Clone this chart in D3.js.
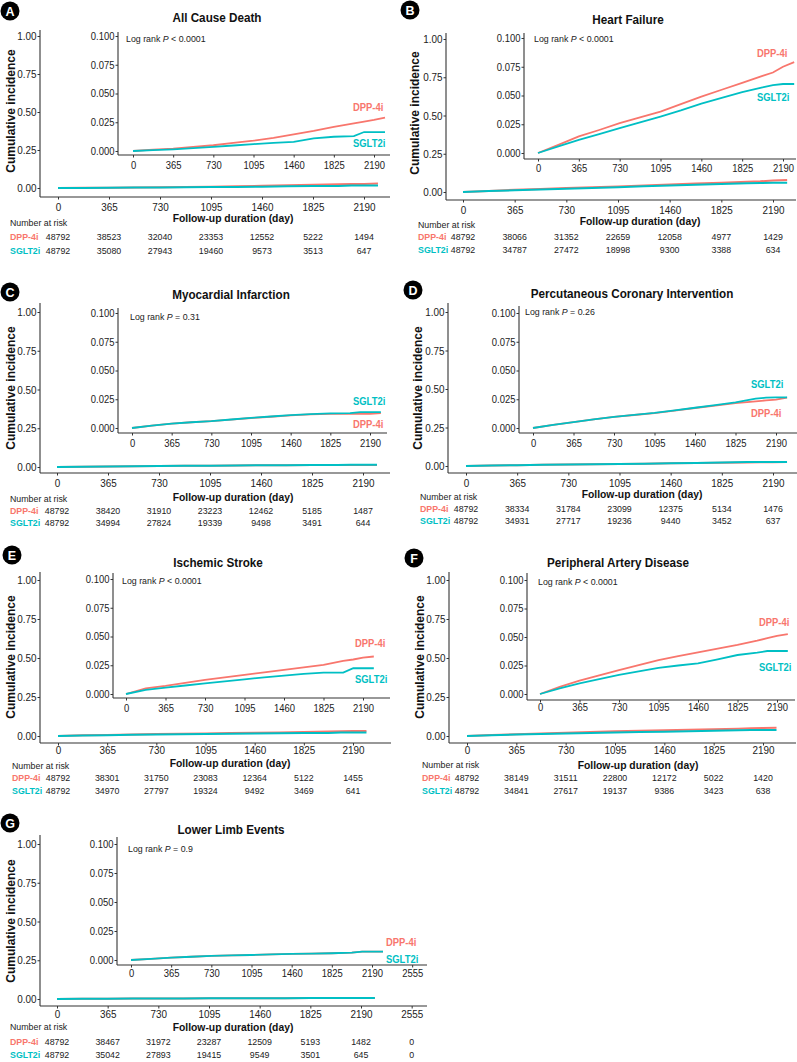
<!DOCTYPE html>
<html><head><meta charset="utf-8">
<script src="https://cdn.jsdelivr.net/npm/d3@7"></script>
<style>body{margin:0;background:#fff} svg{display:block}</style>
</head><body>
<script>
// ---------------- DATA ----------------
const times = [0, 182, 365, 547, 730, 912, 1095, 1277, 1460, 1642, 1825, 2007, 2100, 2190, 2290];
const groups = ["DPP-4i", "SGLT2i"];
const panelLetters = ["A", "B", "C", "D", "E", "F", "G"];
const panelTitles = ["All Cause Death", "Heart Failure", "Myocardial Infarction",
  "Percutaneous Coronary Intervention", "Ischemic Stroke", "Peripheral Artery Disease", "Lower Limb Events"];
const logRankP = ["< 0.0001", "< 0.0001", "= 0.31", "= 0.26", "< 0.0001", "< 0.0001", "= 0.9"];

const dppA  = [0, .0012, .002, .0035, .005, .007, .009, .0115, .0145, .0175, .021, .024, .0255, .027, .029];
const sgltA = [0, .0008, .0015, .0025, .0035, .0048, .006, .007, .008, .011, .0124, .013, .0165, .0165, .0165];
const dppB  = [0, .007, .0144, .020, .026, .031, .036, .0425, .049, .055, .061, .067, .070, .075, .079];
const sgltB = [0, .0058, .0115, .0165, .0216, .0267, .0317, .037, .043, .048, .053, .057, .059, .060, .060];
const dppC  = [0, .002, .0038, .005, .006, .0073, .0087, .0098, .011, .0118, .0122, .0122, .0122, .0122, .013];
const sgltC = [0, .002, .0038, .005, .006, .0074, .0088, .010, .0112, .012, .0128, .013, .0138, .0138, .0138];
const dppD  = [0, .0027, .0052, .0075, .0096, .0113, .013, .0152, .0174, .0195, .0217, .0232, .024, .0246, .0264];
const sgltD = [0, .0027, .0052, .0075, .0097, .0114, .0132, .0154, .0176, .0198, .0222, .0255, .0264, .0267, .0267];
const dppE  = [0, .0049, .007, .0096, .0122, .0144, .0166, .0188, .0209, .0231, .0253, .0288, .030, .0317, .0326];
const sgltE = [0, .0035, .0055, .0074, .0093, .011, .0128, .0144, .016, .0175, .0186, .0186, .0224, .0224, .0224];
const dppF  = [0, .0062, .0117, .0164, .021, .0254, .0298, .0332, .0365, .0398, .043, .0468, .049, .0509, .0526];
const sgltF = [0, .005, .0094, .013, .0167, .0199, .023, .025, .0269, .0304, .0342, .0363, .0377, .0377, .0377];
const dppG  = [0, .001, .002, .0028, .0035, .004, .0043, .0048, .0052, .0055, .0058, .0063, .0072, .0072, .0072];
const sgltG = [0, .001, .002, .0028, .0035, .004, .0043, .0048, .0052, .0055, .0058, .0063, .0072, .0072, .0072];

const xTicks = [0, 365, 730, 1095, 1460, 1825, 2190];
const xTicksG = [0, 365, 730, 1095, 1460, 1825, 2190, 2555];
const yTicksMain = [0, 0.25, 0.5, 0.75, 1.0];
const yTicksInset = [0, 0.025, 0.05, 0.075, 0.1];

const riskDppA  = [48792, 38523, 32040, 23353, 12552, 5222, 1494];
const riskSgltA = [48792, 35080, 27943, 19460, 9573, 3513, 647];
const riskDppB  = [48792, 38066, 31352, 22659, 12058, 4977, 1429];
const riskSgltB = [48792, 34787, 27472, 18998, 9300, 3388, 634];
const riskDppC  = [48792, 38420, 31910, 23223, 12462, 5185, 1487];
const riskSgltC = [48792, 34994, 27824, 19339, 9498, 3491, 644];
const riskDppD  = [48792, 38334, 31784, 23099, 12375, 5134, 1476];
const riskSgltD = [48792, 34931, 27717, 19236, 9440, 3452, 637];
const riskDppE  = [48792, 38301, 31750, 23083, 12364, 5122, 1455];
const riskSgltE = [48792, 34970, 27797, 19324, 9492, 3469, 641];
const riskDppF  = [48792, 38149, 31511, 22800, 12172, 5022, 1420];
const riskSgltF = [48792, 34841, 27617, 19137, 9386, 3423, 638];
const riskDppG  = [48792, 38467, 31972, 23287, 12509, 5193, 1482, 0];
const riskSgltG = [48792, 35042, 27893, 19415, 9549, 3501, 645, 0];

const dppSeries  = [dppA, dppB, dppC, dppD, dppE, dppF, dppG];
const sgltSeries = [sgltA, sgltB, sgltC, sgltD, sgltE, sgltF, sgltG];
const riskDpp  = [riskDppA, riskDppB, riskDppC, riskDppD, riskDppE, riskDppF, riskDppG];
const riskSglt = [riskSgltA, riskSgltB, riskSgltC, riskSgltD, riskSgltE, riskSgltF, riskSgltG];

// ---------------- LAYOUT ----------------
const colors = {"DPP-4i": "#F8766D", "SGLT2i": "#00BFC4"};
const FONT = "'Liberation Sans', Arial, Helvetica, sans-serif";

const layouts = [
 {badge:[10,11], title:[217,17], yLab:[11,111],
  main:{ax:40, top:30, y1:36, y0:188, xAx:197, x0:58, x2190:364, right:390, lab:207, xTitle:[233,218]},
  ins:{ax:118, top:32, y1:36, y0:151, xAx:155, x0:133, x2190:374, right:390, lab:165, lr:[126,39], lx:353, ld:107, ls:143},
  risk:{lx:10, nar:223, r1:237, r2:251}},
 {badge:[410,10], title:[628,19], yLab:[415,113],
  main:{ax:446, top:33, y1:39, y0:192, xAx:200, x0:463, x2190:773, right:796, lab:210, xTitle:[640,221]},
  ins:{ax:524, top:33, y1:38, y0:153, xAx:159, x0:538, x2190:783, right:796, lab:168, lr:[534,39], lx:757, ld:53, ls:97},
  risk:{lx:418, nar:225, r1:237, r2:250}},
 {badge:[10,292], title:[231,294], yLab:[11,388],
  main:{ax:40, top:303, y1:312, y0:467, xAx:473, x0:57, x2190:363, right:390, lab:483, xTitle:[233,497]},
  ins:{ax:118, top:308, y1:313, y0:428, xAx:433, x0:132, x2190:370, right:387, lab:443, lr:[130,317], lx:353, ld:424, ls:401},
  risk:{lx:10, nar:499, r1:511, r2:523}},
 {badge:[413,290], title:[632,293], yLab:[418,388],
  main:{ax:448, top:303, y1:312, y0:466, xAx:473, x0:466, x2190:773, right:797, lab:483, xTitle:[642,494]},
  ins:{ax:519, top:306, y1:313, y0:428, xAx:433, x0:533, x2190:776, right:797, lab:443, lr:[525,312], lx:751, ld:413, ls:384},
  risk:{lx:420, nar:497, r1:509, r2:521}},
 {badge:[12,555], title:[218,562], yLab:[11,657],
  main:{ax:40, top:572, y1:580, y0:736, xAx:743, x0:58, x2190:353, right:391, lab:750, xTitle:[230,763]},
  ins:{ax:113, top:573, y1:579, y0:694, xAx:698, x0:126, x2190:363, right:390, lab:708, lr:[122,581], lx:355, ld:643, ls:679},
  risk:{lx:12, nar:766, r1:778, r2:791}},
 {badge:[414,558], title:[618,562], yLab:[420,657],
  main:{ax:449, top:572, y1:580, y0:736, xAx:743, x0:467, x2190:763, right:796, lab:750, xTitle:[638,765]},
  ins:{ax:527, top:573, y1:580, y0:694, xAx:700, x0:540, x2190:777, right:795, lab:707, lr:[538,582], lx:759, ld:622, ls:667},
  risk:{lx:422, nar:765, r1:778, r2:791}},
 {badge:[10,823], title:[231,829], yLab:[11,921],
  main:{ax:40, top:835, y1:844, y0:999, xAx:1006, x0:57, x2190:361, right:427, lab:1014, xTitle:[233,1027]},
  ins:{ax:117, top:837, y1:844, y0:960, xAx:965, x0:131, x2190:372, right:427, lab:973, lr:[128,849], lx:386, ld:942, ls:959},
  risk:{lx:10, nar:1027, r1:1042, r2:1055}}
];

// ---------------- DRAW ----------------
const svg = d3.select("body").append("svg").attr("width", 797).attr("height", 1062)
  .style("font-family", FONT);

function txt(g, x, y, s, o = {}) {
  const t = g.append("text")
    .attr("transform", `translate(${x},${y}) scale(${o.sx ?? 0.9},1)`)
    .attr("dy", "0.35em")
    .attr("text-anchor", o.anchor || "start")
    .style("font-size", (o.size || 10) + "px")
    .style("font-weight", o.weight || "normal")
    .attr("fill", o.fill || "#222");
  t.text(s);
  return t;
}

function drawAxes(g, x, y, L, xt, yt, yfmt, size) {
  g.append("line").attr("x1", L.ax).attr("x2", L.ax).attr("y1", L.top).attr("y2", L.xAx)
    .attr("stroke", "#333").attr("stroke-width", 1.1);
  g.append("line").attr("x1", L.ax).attr("x2", L.right).attr("y1", L.xAx).attr("y2", L.xAx)
    .attr("stroke", "#333").attr("stroke-width", 1.1);
  const ya = d3.axisLeft(y).tickValues(yt).tickFormat(yfmt).tickSizeInner(2.5).tickSizeOuter(0).tickPadding(1.5);
  const yg = g.append("g").attr("transform", `translate(${L.ax},0)`).call(ya);
  const xa = d3.axisBottom(x).tickValues(xt).tickFormat(d3.format("d")).tickSizeInner(2.5).tickSizeOuter(0).tickPadding(3);
  const xg = g.append("g").attr("transform", `translate(0,${L.xAx})`).call(xa);
  [yg, xg].forEach(a => {
    a.select(".domain").remove();
    a.selectAll(".tick line").attr("stroke", "#333");
    a.selectAll(".tick text").attr("fill", "#222").style("font-family", FONT).style("font-size", size + "px");
  });
  yg.selectAll(".tick text").attr("transform", "scale(0.9,1)");
  xg.selectAll(".tick text").attr("transform", "scale(0.9,1)").attr("y", L.lab - L.xAx).attr("dy", "0.35em");
}

layouts.forEach((P, i) => {
  const g = svg.append("g");
  const isG = i === 6;
  const xt = isG ? xTicksG : xTicks;
  const dpp = times.map((t, k) => [t, dppSeries[i][k]]);
  const sglt = times.map((t, k) => [t, sgltSeries[i][k]]);

  // badge
  g.append("circle").attr("cx", P.badge[0]).attr("cy", P.badge[1]).attr("r", 9.5).attr("fill", "#000");
  g.append("text").attr("x", P.badge[0]).attr("y", P.badge[1]).attr("dy", "0.36em")
    .attr("text-anchor", "middle").attr("fill", "#fff").style("font-size", "12.5px")
    .style("font-weight", "bold").text(panelLetters[i]);

  // title
  txt(g, P.title[0], P.title[1], panelTitles[i], {anchor: "middle", size: 13, weight: "bold", fill: "#111"});

  // main plot
  const M = P.main;
  const xm = d3.scaleLinear().domain([0, 2190]).range([M.x0, M.x2190]);
  const ym = d3.scaleLinear().domain([0, 1]).range([M.y0, M.y1]);
  drawAxes(g, xm, ym, M, xt, yTicksMain, d3.format(".2f"), 11);
  const lineM = d3.line().x(d => xm(d[0])).y(d => ym(d[1]));
  g.append("path").datum(dpp).attr("d", lineM).attr("fill", "none").attr("stroke", colors["DPP-4i"]).attr("stroke-width", 2);
  g.append("path").datum(sglt).attr("d", lineM).attr("fill", "none").attr("stroke", colors["SGLT2i"]).attr("stroke-width", 2);

  // y label
  g.append("text").attr("transform", `translate(${P.yLab[0]},${P.yLab[1]}) rotate(-90)`)
    .attr("dy", "0.35em").attr("text-anchor", "middle").style("font-size", "12px")
    .style("font-weight", "bold").attr("fill", "#111").text("Cumulative incidence");
  // x title
  txt(g, M.xTitle[0], M.xTitle[1], "Follow-up duration (day)", {anchor: "middle", size: 11.5, weight: "bold", fill: "#111"});

  // inset
  const I = P.ins;
  const xi = d3.scaleLinear().domain([0, 2190]).range([I.x0, I.x2190]);
  const yi = d3.scaleLinear().domain([0, 0.1]).range([I.y0, I.y1]);
  drawAxes(g, xi, yi, I, xt, yTicksInset, d3.format(".3f"), 10.5);
  const lineI = d3.line().x(d => xi(d[0])).y(d => yi(d[1]));
  g.append("path").datum(dpp).attr("d", lineI).attr("fill", "none").attr("stroke", colors["DPP-4i"]).attr("stroke-width", 1.8);
  g.append("path").datum(sglt).attr("d", lineI).attr("fill", "none").attr("stroke", colors["SGLT2i"]).attr("stroke-width", 1.8);

  // log rank
  const lr = txt(g, I.lr[0], I.lr[1], null, {size: 9.8, fill: "#222"});
  lr.text(null);
  lr.append("tspan").text("Log rank ");
  lr.append("tspan").style("font-style", "italic").text("P");
  lr.append("tspan").text(" " + logRankP[i]);

  // curve labels
  txt(g, I.lx, I.ld, groups[0], {size: 11.5, sx: 0.82, weight: "bold", fill: colors["DPP-4i"]});
  txt(g, I.lx, I.ls, groups[1], {size: 11.5, sx: 0.82, weight: "bold", fill: colors["SGLT2i"]});

  // risk table
  const R = P.risk;
  txt(g, R.lx, R.nar, "Number at risk", {size: 9.8, fill: "#222"});
  txt(g, R.lx, R.r1, groups[0], {size: 9.8, weight: "bold", fill: colors["DPP-4i"]});
  txt(g, R.lx, R.r2, groups[1], {size: 9.8, weight: "bold", fill: colors["SGLT2i"]});
  xt.forEach((t, k) => {
    txt(g, xm(t), R.r1, String(riskDpp[i][k]), {anchor: "middle", size: 9.8, fill: "#222"});
    txt(g, xm(t), R.r2, String(riskSglt[i][k]), {anchor: "middle", size: 9.8, fill: "#222"});
  });
});
</script>
</body></html>
